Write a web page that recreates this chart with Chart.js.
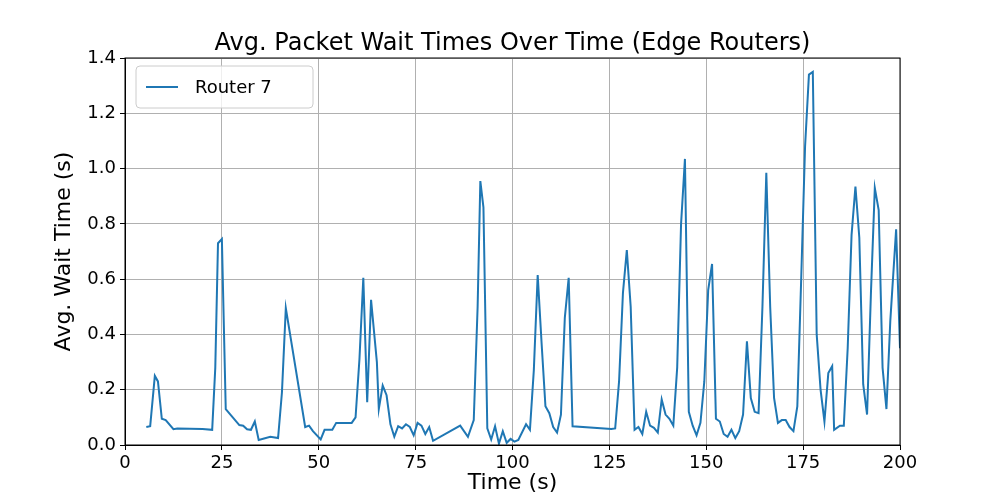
<!DOCTYPE html>
<html>
<head>
<meta charset="utf-8">
<script src="https://cdn.jsdelivr.net/npm/chart.js@4/dist/chart.umd.min.js"></script>
<style>
  html, body { margin: 0; padding: 0; background: #fff; }
  #wrap { width: 1000px; height: 500px; }
</style>
</head>
<body>
<div id="wrap"><canvas id="c"></canvas></div>
<script>
// 時刻 (s)
const times = [5.5, 6.5, 7.7, 8.5, 9.5, 10.5, 12.5, 13.5, 20, 22.5, 23.3, 24, 25, 26, 29.5, 30.5, 31.5, 32.5, 33.5, 34.5,
  37.5, 39.5, 40.5, 41.5, 46.5, 47.5, 48.5, 50.5, 51.5, 53.5, 54.5, 58.5, 59.5, 60.5, 61.5, 62.5, 63.5, 65, 65.5, 66.5,
  67.5, 68.5, 69.5, 70.5, 71.5, 72.5, 73.5, 74.5, 75.5, 76.5, 77.5, 78.5, 79.5, 86.5, 88.5, 90, 91, 91.7, 92.5, 93.5,
  94.5, 95.5, 96.5, 97.5, 98.5, 99.5, 100.5, 101.5, 103.5, 104.5, 105.5, 106.5, 107.5, 108.5, 109.5, 110.5, 111.5, 112.5, 113.5, 114.5,
  115.5, 125.5, 126.5, 127.5, 128.5, 129.5, 130.5, 131.5, 132.5, 133.5, 134.5, 135.5, 136.5, 137.5, 138.5, 139.5, 140.5, 141.5, 142.5, 143.5,
  144.5, 145.5, 146.5, 147.5, 148.5, 149.5, 150.5, 151.5, 152.5, 153.5, 154.5, 155.5, 156.5, 157.5, 158.5, 159.5, 160.5, 161.5, 162.5, 163.5,
  164.5, 165.5, 166.5, 167.5, 168.5, 169.5, 170.5, 171.5, 172.5, 173.5, 174.5, 175.5, 176.5, 177.5, 178.5, 179.5, 180.5, 181.5, 182.5, 183,
  184.5, 185.5, 186.5, 187.5, 188.5, 189.5, 190.5, 191.5, 192.5, 193.5, 194.5, 195.5, 196.5, 197.5, 198.5, 199, 200];

// 平均待ち時間 (s)
const waits = [0.065, 0.068, 0.25, 0.23, 0.095, 0.09, 0.057, 0.06, 0.058, 0.055, 0.28, 0.73, 0.745, 0.13, 0.072, 0.07, 0.057, 0.055, 0.085, 0.018,
  0.03, 0.025, 0.19, 0.495, 0.065, 0.07, 0.05, 0.02, 0.055, 0.055, 0.08, 0.08, 0.1, 0.31, 0.605, 0.155, 0.525, 0.3, 0.13, 0.215,
  0.18, 0.075, 0.03, 0.068, 0.06, 0.075, 0.065, 0.035, 0.08, 0.07, 0.04, 0.065, 0.015, 0.07, 0.03, 0.09, 0.5, 0.955, 0.86, 0.06,
  0.02, 0.068, 0.005, 0.05, 0.008, 0.022, 0.012, 0.018, 0.075, 0.055, 0.27, 0.615, 0.37, 0.14, 0.115, 0.065, 0.045, 0.11, 0.46, 0.605,
  0.068, 0.058, 0.06, 0.23, 0.55, 0.705, 0.5, 0.055, 0.065, 0.04, 0.12, 0.07, 0.062, 0.045, 0.165, 0.11, 0.095, 0.07, 0.28, 0.8,
  1.035, 0.12, 0.07, 0.035, 0.08, 0.23, 0.56, 0.655, 0.095, 0.085, 0.04, 0.03, 0.055, 0.025, 0.05, 0.11, 0.375, 0.17, 0.12, 0.115,
  0.5, 0.985, 0.5, 0.17, 0.08, 0.09, 0.09, 0.065, 0.05, 0.14, 0.6, 1.08, 1.34, 1.35, 0.4, 0.2, 0.085, 0.26, 0.285, 0.055,
  0.07, 0.07, 0.35, 0.76, 0.935, 0.75, 0.22, 0.11, 0.55, 0.93, 0.85, 0.28, 0.13, 0.45, 0.67, 0.78, 0.35];

const xTicks = [0, 25, 50, 75, 100, 125, 150, 175, 200];
const yTicks = [0, 0.2, 0.4, 0.6, 0.8, 1.0, 1.2, 1.4];
const titleText = 'Avg. Packet Wait Times Over Time (Edge Routers)';

const FONT = 'DejaVu Sans';

// 枠線・タイトル・凡例を描くプラグイン
const framePlugin = {
  id: 'frame',
  afterDraw(chart) {
    const { ctx, chartArea: a } = chart;
    ctx.save();
    ctx.strokeStyle = '#000';
    ctx.lineWidth = 1;
    ctx.strokeRect(a.left, a.top, a.right - a.left, a.bottom - a.top);
    // タイトル (プロット領域の中央)
    ctx.fillStyle = '#000';
    ctx.font = '24px "' + FONT + '"';
    ctx.textAlign = 'center';
    ctx.textBaseline = 'alphabetic';
    ctx.fillText(titleText, (a.left + a.right) / 2, a.top - 8);
    // 凡例
    const x = a.left + 11, y = a.top + 8, w = 177, h = 42;
    ctx.fillStyle = 'rgba(255,255,255,0.8)';
    ctx.strokeStyle = '#cccccc';
    ctx.beginPath();
    ctx.roundRect(x, y, w, h, 4);
    ctx.fill();
    ctx.stroke();
    ctx.strokeStyle = '#1f77b4';
    ctx.lineWidth = 2;
    ctx.beginPath();
    ctx.moveTo(x + 10, y + h / 2);
    ctx.lineTo(x + 42, y + h / 2);
    ctx.stroke();
    ctx.fillStyle = '#000';
    ctx.font = '18px "' + FONT + '"';
    ctx.textAlign = 'left';
    ctx.textBaseline = 'middle';
    ctx.fillText(chart.data.datasets[0].label, x + 59, y + h / 2 + 1);
    ctx.restore();
  }
};

new Chart(document.getElementById('c'), {
  type: 'scatter',
  data: {
    datasets: [{
      label: 'Router 7',
      data: times.map((t, i) => ({ x: t, y: waits[i] })),
      showLine: true,
      borderColor: '#1f77b4',
      borderWidth: 2,
      pointRadius: 0,
      tension: 0
    }]
  },
  options: {
    responsive: true,
    maintainAspectRatio: false,
    animation: false,
    layout: { padding: { top: 58, right: 100, bottom: 0, left: 47 } },
    plugins: {
      legend: { display: false },
      tooltip: { enabled: false },
      title: { display: false }
    },
    scales: {
      x: {
        type: 'linear',
        min: 0, max: 200,
        afterBuildTicks: s => { s.ticks = xTicks.map(v => ({ value: v })); },
        afterFit: s => { s.height = 55; },
        ticks: { color: '#000', font: { family: FONT, size: 18 }, padding: 3, maxRotation: 0 },
        grid: { color: '#b0b0b0', tickColor: '#000', tickLength: 5 },
        border: { color: '#000' },
        title: { display: true, text: 'Time (s)', color: '#000', font: { family: FONT, size: 22 }, padding: { top: 0 } }
      },
      y: {
        min: 0, max: 1.4,
        afterBuildTicks: s => { s.ticks = yTicks.map(v => ({ value: v })); },
        afterFit: s => { s.width = 78; },
        ticks: { color: '#000', font: { family: FONT, size: 18 }, padding: 4, callback: v => v.toFixed(1) },
        grid: { color: '#b0b0b0', tickColor: '#000', tickLength: 5 },
        border: { color: '#000' },
        title: { display: true, text: 'Avg. Wait Time (s)', color: '#000', font: { family: FONT, size: 22 }, padding: { bottom: 0 } }
      }
    }
  },
  plugins: [framePlugin]
});
</script>
</body>
</html>
